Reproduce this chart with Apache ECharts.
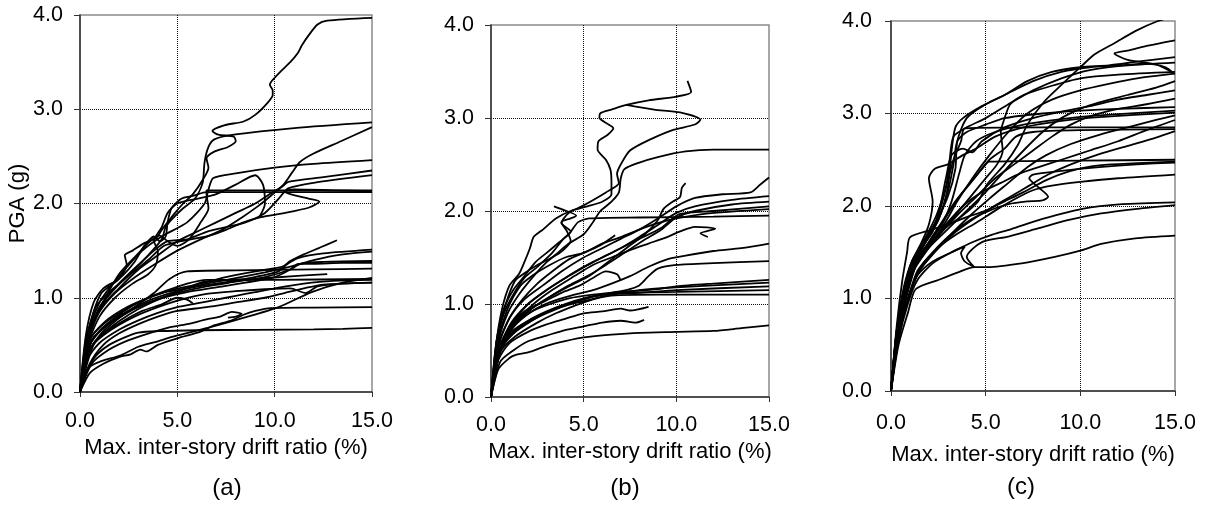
<!DOCTYPE html>
<html>
<head>
<meta charset="utf-8">
<title>IDA curves</title>
<script src="https://cdn.jsdelivr.net/npm/echarts@6/dist/echarts.min.js"></script>
<style>
  html, body { margin: 0; padding: 0; background: #fff; }
  #chart { width: 1206px; height: 507px; }
</style>
</head>
<body>
<div id="chart"></div>
<script>
// Axis ranges and tick spacing shared by the three panels
const xRange = [0, 15];
const xStep = 5;
const yRange = [0, 4];
const yStep = 1;
const panelLabels = ['(a)', '(b)', '(c)'];
const xTitle = 'Max. inter-story drift ratio (%)';
const yTitle = 'PGA (g)';

// Panel (a): PGA (g) versus max. inter-story drift ratio (%), one list per record
const curvesA = [
  [[0,0],[0.3,0.2],[0.8,0.38],[1.5,0.5],[2.3,0.58],[3.0,0.63],[4,0.645],[6,0.655],[9,0.66],[12,0.665],[13.5,0.67],[15,0.68]],
  [[0,0],[0.5,0.2],[1.2,0.3],[2.0,0.37],[2.6,0.40],[3.1,0.45],[3.4,0.43],[4.0,0.5],[5.0,0.57],[6.2,0.64],[6.8,0.70],[7.8,0.76],[8.4,0.82],[9.0,0.86],[9.8,0.89],[12,0.895],[15,0.90]],
  [[0,0],[0.6,0.3],[1.5,0.45],[2.5,0.55],[3.5,0.62],[4.5,0.68],[5.5,0.72],[6.5,0.77],[7.2,0.8],[7.8,0.85],[8.3,0.83],[8.0,0.80],[7.6,0.79]],
  [[0,0],[0.5,0.3],[1.2,0.5],[2,0.62],[3,0.72],[4,0.8],[5,0.86],[6.5,0.9],[8,0.95],[9.5,1.0],[10.5,1.05],[11.5,1.1],[12.5,1.14],[15,1.16]],
  [[0,0],[0.4,0.35],[1.0,0.52],[2,0.66],[3,0.76],[4,0.84],[5,0.9],[6,0.94],[7,0.98],[8,1.02],[9,1.06],[10,1.1],[11.5,1.15],[13,1.18],[15,1.19]],
  [[0,0],[0.4,0.25],[1,0.32],[2.1,0.39],[3,0.48],[3.85,0.53],[5,0.6],[6.75,0.69],[8.3,0.78],[10.2,0.9],[11.9,1.06],[13.5,1.16],[15,1.21]],
  [[0,0],[0.4,0.4],[1,0.6],[1.8,0.75],[2.8,0.9],[3.8,1.05],[4.6,1.2],[5.5,1.28],[8,1.29],[12,1.3],[15,1.31]],
  [[0,0],[0.5,0.45],[1.2,0.62],[2,0.75],[3,0.88],[4,0.98],[5,1.06],[6.4,1.17],[9,1.2],[11,1.23],[12.7,1.25]],
  [[0,0],[0.5,0.5],[1.3,0.7],[2.2,0.82],[3.2,0.92],[4.3,1.0],[5.5,1.06],[7,1.11],[8.5,1.16],[10,1.22],[10.8,1.3],[11.2,1.36],[12,1.36],[13.5,1.37],[15,1.37]],
  [[0,0],[0.6,0.55],[1.5,0.72],[2.5,0.85],[3.5,0.95],[5,1.05],[6.5,1.12],[8,1.17],[9.5,1.22],[10.8,1.3],[11.3,1.36],[12.5,1.38],[15,1.39]],
  [[0,0],[0.4,0.45],[1,0.65],[2,0.82],[3,0.95],[4.2,1.05],[5.5,1.1],[7,1.15],[8.5,1.2],[10.2,1.28],[10.6,1.35],[11.2,1.42],[12.5,1.47],[15,1.51]],
  [[0,0],[0.5,0.5],[1.2,0.68],[2.2,0.83],[3.4,0.96],[4.8,1.06],[6.3,1.14],[7.8,1.2],[9.5,1.27],[11,1.34],[12,1.4],[13.5,1.46],[15,1.49]],
  [[0,0],[0.5,0.55],[1.2,0.72],[2.2,0.86],[3.3,0.98],[4.5,1.07],[6,1.14],[7.5,1.22],[9,1.28],[10.4,1.33],[10.8,1.39],[11.5,1.46],[12.3,1.53],[13.2,1.61]],
  [[0,0],[0.5,0.45],[1.2,0.62],[2.2,0.75],[3.2,0.86],[4.2,0.93],[5,1.0],[5.5,0.98],[5.8,0.94]],
  [[0,0],[0.7,0.5],[1.6,0.66],[2.8,0.8],[4,0.9],[5.2,0.98],[6.5,1.04],[8,1.07],[9.5,1.09],[10.8,1.1],[11.6,1.05],[12.2,1.12],[13.5,1.15],[15,1.16]],
  [[0,0],[0.5,0.55],[1.3,0.75],[2.4,0.9],[3.5,1.0],[4.5,1.08],[5.5,1.15],[6.5,1.19],[10,1.19],[15,1.2]],
  [[0,0],[0.3,0.5],[0.7,0.85],[1.1,1.05],[1.5,1.12],[2.0,1.2],[2.4,1.35],[2.3,1.45],[2.7,1.5],[3.3,1.58],[3.9,1.63],[4.2,1.72],[4.8,1.88],[5.3,2.0],[5.8,2.1],[6.3,2.25],[6.6,2.38],[6.5,2.48],[6.9,2.55],[7.6,2.6],[8.0,2.66],[7.9,2.71],[7.1,2.73],[6.8,2.77],[7.4,2.83],[8.4,2.87],[9.0,2.94],[9.6,3.06],[9.9,3.15],[9.9,3.2],[9.75,3.26],[9.85,3.3],[10.3,3.4],[10.8,3.5],[11.2,3.6],[11.4,3.68],[11.8,3.8],[12.2,3.9],[12.7,3.94],[15,3.97]],
  [[0,0],[0.3,0.55],[0.8,0.9],[1.3,1.02],[2.0,1.15],[2.8,1.3],[3.5,1.45],[4.2,1.62],[4.4,1.75],[4.8,1.85],[5.3,1.95],[5.9,2.05],[6.3,2.22],[6.4,2.44],[6.6,2.6],[6.9,2.68],[7.9,2.73],[11,2.8],[15,2.86]],
  [[0,0],[0.4,0.55],[1.0,0.85],[1.8,1.05],[2.7,1.2],[3.8,1.35],[5.0,1.5],[6.2,1.62],[7.3,1.72],[8.3,1.85],[9.2,1.98],[9.85,2.09],[10.45,2.2],[10.9,2.33],[11.3,2.44],[12.0,2.53],[13.4,2.66],[15,2.81]],
  [[0,0],[0.4,0.6],[1.0,0.95],[1.5,1.1],[2.3,1.3],[3.2,1.5],[4.2,1.65],[5.5,1.8],[6.4,2.0],[6.6,2.15],[6.85,2.27],[8,2.32],[10,2.38],[12,2.42],[15,2.46]],
  [[0,0],[0.5,0.6],[1.1,0.9],[2,1.1],[3,1.3],[4,1.45],[5,1.6],[6,1.7],[7,1.8],[8,1.9],[9,2.0],[9.9,2.12],[10.4,2.18],[10.7,2.23],[12.5,2.28],[15,2.35]],
  [[0,0],[0.5,0.65],[1.2,0.95],[2,1.15],[3,1.35],[3.8,1.5],[4.5,1.6],[5.5,1.62],[6.5,1.7],[7.5,1.75],[8.5,1.8],[9.5,1.9],[10.2,2.05],[10.7,2.16],[12,2.22],[15,2.30]],
  [[0,0],[0.3,0.5],[0.8,0.8],[1.3,1.0],[2.0,1.25],[2.9,1.45],[3.6,1.6],[4.1,1.66],[4.5,1.6],[5.0,1.55],[5.6,1.62],[6.2,1.8],[6.6,1.95],[6.5,2.1],[6.5,2.14],[10,2.14],[15,2.14]],
  [[0,0],[0.4,0.55],[1,0.9],[1.8,1.1],[2.6,1.25],[3.5,1.4],[4.3,1.55],[5.2,1.6],[6.5,1.65],[7.5,1.72],[8.4,1.8],[9.2,1.85],[10,1.88],[11,1.92],[11.8,1.96],[12.3,2.02],[11.8,2.05],[10.8,2.1],[10.5,2.13],[11,2.15],[13,2.14],[15,2.13]],
  [[0,0],[0.3,0.6],[0.7,0.95],[1.2,1.1],[2.0,1.2],[2.8,1.38],[3.3,1.55],[3.8,1.65],[4.1,1.6],[4.4,1.65],[4.5,1.8],[4.7,1.95],[5.2,2.05],[5.8,2.08],[6.5,2.12],[15,2.12]],
  [[0,0],[0.4,0.5],[1,0.8],[1.8,1.0],[2.7,1.15],[3.5,1.25],[3.9,1.35],[4.0,1.5],[3.8,1.6],[4.2,1.75],[4.5,1.9],[5.0,2.0],[6.0,2.05],[7.0,2.1],[8.0,2.2],[9.0,2.3],[9.4,2.2],[9.5,2.0],[9.2,1.85]]
];

// Panel (b)
const curvesB = [
  [[0,0],[0.3,0.6],[0.6,0.95],[1.0,1.2],[1.5,1.32],[1.8,1.45],[2.1,1.6],[2.3,1.72],[2.8,1.8],[3.5,1.92],[4.3,2.0],[5.2,2.05],[6.0,2.1],[6.5,2.18],[6.5,2.3],[6.45,2.44],[6.2,2.55],[5.75,2.66],[5.8,2.75],[6.3,2.82],[6.6,2.89],[6.1,2.96],[5.85,3.0],[5.9,3.05],[6.5,3.09],[7.3,3.14],[8.5,3.19],[10.0,3.23],[10.8,3.28],[10.6,3.4]],
  [[0,0],[0.3,0.55],[0.7,0.9],[1.2,1.1],[1.8,1.28],[2.5,1.4],[3.3,1.55],[3.9,1.7],[4.3,1.78],[3.8,1.87],[4.2,1.98],[4.9,2.05],[6.2,2.2],[6.9,2.3],[6.8,2.4],[7.0,2.5],[7.5,2.65],[8.6,2.77],[9.8,2.87],[11.0,2.93],[11.3,2.98],[10.2,3.06],[8.8,3.09],[7.3,3.14]],
  [[0,0],[0.4,0.6],[0.9,0.9],[1.5,1.1],[2.3,1.3],[3,1.45],[3.6,1.55],[4.2,1.65],[5.0,1.75],[5.5,1.88],[5.9,2.0],[6.5,2.1],[6.9,2.2],[7.0,2.35],[7.2,2.45],[8.0,2.52],[9.0,2.58],[10.5,2.64],[12,2.66],[15,2.66]],
  [[0,0],[0.4,0.55],[1,0.85],[1.8,1.05],[2.8,1.2],[3.8,1.35],[5,1.5],[6,1.6],[7,1.7],[8,1.8],[9,1.92],[10,2.05],[11,2.14],[12.5,2.18],[14,2.2],[14.5,2.28],[15,2.36]],
  [[0,0],[0.4,0.5],[1.1,0.8],[2,1.0],[3,1.15],[4,1.28],[5,1.4],[6,1.5],[7,1.6],[8,1.72],[9,1.85],[10,1.98],[11,2.05],[13,2.12],[15,2.16]],
  [[0,0],[0.5,0.5],[1.2,0.75],[2.2,0.95],[3.2,1.08],[4.2,1.2],[5.2,1.3],[6.2,1.42],[7.2,1.55],[8.2,1.68],[9.2,1.8],[10,1.93],[11,2.0],[13,2.07],[15,2.10]],
  [[0,0],[0.5,0.55],[1.2,0.8],[2,1.0],[3,1.15],[4.2,1.3],[5.5,1.45],[6.8,1.58],[8,1.7],[9.2,1.82],[9.8,1.92],[10.2,1.97],[12,2.0],[15,2.05]],
  [[0,0],[0.4,0.6],[0.9,0.95],[1.6,1.2],[2.2,1.3],[3.0,1.4],[4.0,1.5],[5.0,1.55],[6.0,1.65],[7.0,1.72],[8.0,1.8],[9.0,1.87],[10,1.92],[11.5,1.97],[15,2.02]],
  [[0,0],[0.3,0.6],[0.7,0.95],[1.2,1.15],[1.8,1.3],[2.4,1.45],[3.0,1.55],[3.6,1.65],[4.2,1.75],[4.7,1.88],[5.3,1.92],[8,1.93],[12,1.94],[15,1.95]],
  [[0,0],[0.5,0.5],[1.2,0.75],[2.2,0.92],[3.2,1.02],[4.5,1.1],[5.5,1.15],[6.5,1.22],[7.5,1.3],[8.5,1.4],[9.5,1.48],[10.5,1.52],[12,1.57],[13.5,1.6],[15,1.65]],
  [[0,0],[0.5,0.5],[1.3,0.72],[2.3,0.85],[3.5,0.95],[4.5,1.02],[5.5,1.08],[6.5,1.12],[7.3,1.15],[8.0,1.2],[8.5,1.3],[9.0,1.38],[10,1.42],[12,1.44],[15,1.46]],
  [[0,0],[0.5,0.55],[1.2,0.78],[2.2,0.92],[3.2,1.0],[4.2,1.06],[5.5,1.1],[7,1.13],[9,1.16],[10,1.19],[12,1.22],[15,1.26]],
  [[0,0],[0.4,0.45],[1,0.65],[2,0.8],[3,0.9],[4,0.98],[5,1.03],[6,1.08],[7,1.12],[8,1.15],[10,1.18],[12,1.2],[15,1.23]],
  [[0,0],[0.4,0.5],[1.1,0.7],[2,0.82],[3,0.92],[4,1.0],[5,1.06],[6,1.1],[8,1.12],[10,1.15],[15,1.19]],
  [[0,0],[0.5,0.5],[1.2,0.68],[2.2,0.82],[3.3,0.94],[4.5,1.02],[5.5,1.08],[7,1.12],[10,1.13],[15,1.15]],
  [[0,0],[0.5,0.48],[1.3,0.65],[2.5,0.8],[3.5,0.9],[4.5,0.98],[5.5,1.05],[6.5,1.09],[9,1.1],[15,1.10]],
  [[0,0],[0.4,0.3],[1,0.42],[1.3,0.45],[2,0.48],[3,0.55],[4,0.6],[5,0.64],[6.5,0.67],[8,0.69],[10,0.7],[12,0.71],[13.5,0.74],[15,0.77]],
  [[0,0],[0.4,0.4],[1,0.58],[2,0.7],[3,0.78],[4,0.84],[5,0.9],[6,0.92],[7,0.95],[7.5,0.93],[8.5,0.97]],
  [[0,0],[0.5,0.38],[1.2,0.5],[2,0.6],[3,0.66],[4,0.72],[5,0.76],[6,0.8],[7,0.82],[7.8,0.8],[8.26,0.83]],
  [[0,0],[0.5,0.5],[1.2,0.78],[2.2,0.95],[3.2,1.08],[4.3,1.2],[5.3,1.3],[6.3,1.45],[7.3,1.6],[8.3,1.75],[9.0,1.9],[9.3,2.02],[9.8,2.1],[10.2,2.15],[10.3,2.25],[10.5,2.3]],
  [[0,0],[0.5,0.5],[1.3,0.8],[2.3,1.0],[3.3,1.15],[4.5,1.3],[5.5,1.42],[6.5,1.5],[7.5,1.58],[8.5,1.65],[9.5,1.72],[10.2,1.78],[11,1.83],[12.1,1.81],[11.3,1.76],[11.7,1.72]],
  [[0,0],[0.4,0.55],[1,0.85],[1.7,1.05],[2.5,1.22],[3.3,1.35],[4.2,1.48],[5,1.55],[5.8,1.62],[6.7,1.74]],
  [[0,0],[0.3,0.6],[0.8,1.0],[1.3,1.25],[1.8,1.33],[2.5,1.42],[3.3,1.5],[3.9,1.58],[4.3,1.68],[4.1,1.78],[3.8,1.88],[4.3,1.92],[4.6,1.95],[3.8,2.02],[3.4,2.05]],
  [[0,0],[0.4,0.5],[1.0,0.75],[1.8,0.92],[2.8,1.02],[3.8,1.12],[4.8,1.2],[5.5,1.28],[6.2,1.35],[6.8,1.32],[7.0,1.25]]
];

// Panel (c)
const curvesC = [
  [[0,0],[0.3,0.6],[0.6,1.0],[1.0,1.3],[1.8,1.55],[2.8,1.75],[3.8,1.9],[4.6,2.05],[5.1,2.24],[6.0,2.45],[6.7,2.66],[7.2,2.88],[8.1,3.13],[9.0,3.31],[10.05,3.51],[10.76,3.64],[11.8,3.76],[12.9,3.89],[14.1,4.0],[15,4.05]],
  [[0,0],[0.3,0.65],[0.6,1.05],[1.0,1.35],[1.5,1.55],[2.3,1.8],[3.0,2.1],[3.4,2.4],[3.5,2.7],[4.0,2.95],[5.0,3.1],[6.0,3.2],[7.5,3.35],[9.0,3.45],[10.5,3.5],[12.0,3.52],[13.5,3.54],[14.5,3.5],[14.9,3.44],[14.0,3.53],[12.5,3.58],[11.8,3.65],[12.5,3.68],[13.5,3.73],[15,3.79]],
  [[0,0],[0.3,0.6],[0.7,1.05],[1.2,1.4],[1.8,1.6],[2.5,1.85],[3.0,2.2],[3.2,2.6],[3.4,2.85],[3.8,2.95],[4.8,3.08],[6.0,3.2],[7.2,3.35],[8.5,3.45],[10,3.5],[11.5,3.52],[13,3.56],[15,3.61]],
  [[0,0],[0.35,0.7],[0.7,1.1],[1.1,1.4],[1.7,1.6],[2.4,1.85],[2.9,2.2],[3.1,2.5],[3.3,2.75],[4.0,2.85],[5,2.95],[6.2,3.1],[7.5,3.25],[9,3.38],[10.5,3.47],[12.5,3.52],[15,3.55]],
  [[0,0],[0.3,0.55],[0.7,0.95],[1.2,1.3],[2,1.55],[2.8,1.8],[3.5,2.05],[4.3,2.3],[5.2,2.55],[6.2,2.8],[7.2,3.0],[8.5,3.15],[10,3.25],[11.5,3.32],[13,3.38],[15,3.43]],
  [[0,0],[0.3,0.6],[0.7,1.0],[1.2,1.35],[2,1.55],[3,1.75],[4,1.95],[5,2.15],[6,2.38],[7,2.6],[8,2.8],[9,2.95],[10,3.05],[11,3.12],[12.5,3.2],[14,3.28],[15,3.35]],
  [[0,0],[0.3,0.65],[0.7,1.05],[1.1,1.35],[1.6,1.55],[2.2,1.72],[2.6,2.0],[2.9,2.3],[3.2,2.55],[3.8,2.62],[4.3,2.58],[4.8,2.7],[6,2.85],[7.5,2.95],[9,3.02],[10.5,3.08],[12,3.15],[13.5,3.2],[15,3.25]],
  [[0,0],[0.3,0.55],[0.7,1.0],[1.1,1.3],[1.8,1.5],[2.6,1.7],[3.5,1.9],[4.5,2.1],[5.5,2.3],[6.5,2.45],[7.5,2.6],[8.5,2.75],[9.5,2.88],[10.5,2.97],[12,3.05],[13.5,3.1],[15,3.16]],
  [[0,0],[0.3,0.6],[0.7,1.0],[1.2,1.35],[1.8,1.6],[2.5,1.85],[3.0,2.15],[3.3,2.45],[3.5,2.7],[4,2.8],[5,2.88],[6,2.95],[8,3.0],[10,3.03],[12,3.05],[15,3.07]],
  [[0,0],[0.3,0.6],[0.8,1.05],[1.3,1.4],[2,1.6],[2.7,1.8],[3.2,2.05],[3.6,2.35],[3.9,2.55],[4.5,2.7],[5.5,2.8],[7,2.88],[9,2.94],[11,2.98],[15,3.03]],
  [[0,0],[0.4,0.6],[0.9,1.0],[1.5,1.3],[2.3,1.5],[3.2,1.7],[4.2,1.9],[5.2,2.08],[6.2,2.25],[7.2,2.42],[8.2,2.55],[9.5,2.67],[11,2.77],[12.5,2.85],[14,2.93],[15,2.98]],
  [[0,0],[0.4,0.65],[0.9,1.1],[1.4,1.4],[2.1,1.6],[2.9,1.8],[3.8,2.0],[4.8,2.15],[5.8,2.25],[6.8,2.35],[7.8,2.42],[9,2.5],[10.5,2.6],[12,2.7],[13.5,2.82],[15,2.93]],
  [[0,0],[0.3,0.6],[0.7,1.05],[1.2,1.4],[1.8,1.65],[2.4,1.9],[2.9,2.2],[3.3,2.5],[3.7,2.7],[3.9,2.84],[8,2.85],[15,2.85]],
  [[0,0],[0.3,0.55],[0.8,1.0],[1.3,1.35],[2,1.6],[2.8,1.85],[3.6,2.1],[4.4,2.3],[5.2,2.5],[6,2.62],[6.6,2.75],[7.5,2.8],[10,2.82],[15,2.83]],
  [[0,0],[0.4,0.6],[0.9,1.0],[1.5,1.3],[2.3,1.5],[3.3,1.7],[4.3,1.85],[5.3,1.98],[6.3,2.1],[7.3,2.22],[8.3,2.34],[9.5,2.45],[11,2.56],[12.5,2.65],[14,2.74],[15,2.81]],
  [[0,0],[0.3,0.6],[0.7,1.0],[1.2,1.35],[1.8,1.55],[2.6,1.8],[3.4,2.05],[4.2,2.25],[4.8,2.4],[5.2,2.48],[10,2.49],[15,2.50]],
  [[0,0],[0.4,0.6],[0.9,1.0],[1.4,1.3],[2.2,1.5],[3.2,1.7],[4.2,1.85],[5.2,1.95],[6.2,2.02],[7.2,2.05],[8.0,2.06],[8.3,2.1],[7.8,2.2],[7.3,2.3],[7.5,2.34],[9,2.38],[11,2.42],[13,2.45],[15,2.47]],
  [[0,0],[0.4,0.6],[1.0,1.05],[1.6,1.35],[2.5,1.55],[3.5,1.7],[4.5,1.82],[5.5,1.95],[6.5,2.07],[7.5,2.17],[8.5,2.22],[10,2.26],[12,2.3],[15,2.34]],
  [[0,0],[0.4,0.6],[0.9,1.0],[1.4,1.25],[2.2,1.4],[3.2,1.5],[4.2,1.6],[5.2,1.68],[6.35,1.75],[8.0,1.86],[10.1,1.97],[12.2,2.02],[15,2.04]],
  [[0,0],[0.4,0.55],[0.9,0.95],[1.4,1.2],[2.2,1.38],[3.2,1.5],[3.9,1.56],[3.7,1.49],[3.9,1.40],[4.4,1.34],[4.0,1.45],[4.8,1.61],[6.2,1.67],[7.8,1.76],[9.4,1.85],[11.1,1.92],[13,1.97],[15,2.01]],
  [[0,0],[0.4,0.5],[0.9,0.85],[1.3,1.1],[2.5,1.2],[3.5,1.28],[4.4,1.34],[5.1,1.34],[6.9,1.38],[8.65,1.45],[10.05,1.52],[11.1,1.59],[12.9,1.65],[15,1.68]],
  [[0,0],[0.3,0.7],[0.6,1.2],[0.85,1.5],[1.0,1.66],[2.1,1.74],[3,1.8],[4,1.88],[5,1.95],[6,2.05],[7,2.15],[8.2,2.28],[9.5,2.38],[11,2.44],[15,2.48]],
  [[0,0],[0.3,0.65],[0.7,1.1],[1.1,1.4],[1.6,1.6],[2.0,1.8],[2.2,2.05],[2.0,2.3],[2.3,2.4],[3,2.45],[3.8,2.55],[4.5,2.62],[5.5,2.75],[7,2.85],[9,2.92],[11,2.96],[15,3.01]],
  [[0,0],[0.35,0.6],[0.8,1.05],[1.3,1.35],[2,1.55],[2.8,1.75],[3.6,1.95],[4.4,2.15],[5.0,2.3],[5.6,2.45],[5.9,2.6],[5.8,2.8],[6.0,2.95],[6.3,3.1],[7,3.2],[8.5,3.3],[10,3.38],[12,3.42],[15,3.45]]
];

const FONT = '"Liberation Sans", Arial, Helvetica, sans-serif';
const INK = '#000';
const AXIS_INK = '#333';

// Plot-area placement of each panel (pixels)
const grids = [
  { left: 80,  top: 15, width: 292, height: 377 },
  { left: 491, top: 25, width: 278, height: 372 },
  { left: 891, top: 21, width: 284, height: 370 }
];
const xLabelMargin = [18, 17, 21];
const xNameGap = [41, 44, 53];
const yLabelMargin = [17, 17, 19];
const panelLabelPos = [[227, 488], [625, 488], [1021, 487]];

const fmt = v => v.toFixed(1);

function xAxisFor(i) {
  return {
    type: 'value', gridIndex: i,
    min: xRange[0], max: xRange[1], interval: xStep,
    name: xTitle, nameLocation: 'middle', nameGap: xNameGap[i],
    nameTextStyle: { fontFamily: FONT, fontSize: 22, color: INK },
    axisLine: { show: true, onZero: false, lineStyle: { color: AXIS_INK, width: 1.5 } },
    axisTick: { show: true, inside: false, length: 5, lineStyle: { color: AXIS_INK, width: 1 } },
    axisLabel: { formatter: fmt, fontFamily: FONT, fontSize: 21.5, color: INK, margin: xLabelMargin[i] },
    splitLine: { show: true, showMinLine: false, showMaxLine: false,
                 lineStyle: { color: '#111', width: 1, type: [1, 1] } }
  };
}

function yAxisFor(i) {
  const ax = {
    type: 'value', gridIndex: i,
    min: yRange[0], max: yRange[1], interval: yStep,
    axisLine: { show: true, onZero: false, lineStyle: { color: AXIS_INK, width: 1.5 } },
    axisTick: { show: true, inside: false, length: 6, lineStyle: { color: AXIS_INK, width: 1 } },
    axisLabel: { formatter: fmt, fontFamily: FONT, fontSize: 21.5, color: INK, margin: yLabelMargin[i] },
    splitLine: { show: true, showMinLine: false, showMaxLine: false,
                 lineStyle: { color: '#111', width: 1, type: [1, 1] } }
  };
  if (i === 0) {
    ax.name = yTitle;
    ax.nameLocation = 'middle';
    ax.nameRotate = 90;
    ax.nameGap = 50;
    ax.nameTextStyle = { fontFamily: FONT, fontSize: 22, color: INK };
  }
  return ax;
}

const series = [];
[curvesA, curvesB, curvesC].forEach((curves, i) => {
  curves.forEach(c => {
    series.push({
      type: 'line', xAxisIndex: i, yAxisIndex: i,
      data: c, showSymbol: false, symbol: 'none',
      smooth: 0.25, clip: true,
      lineStyle: { color: INK, width: 1.8 },
      emphasis: { disabled: true }, silent: true
    });
  });
});

const chart = echarts.init(document.getElementById('chart'), null, { renderer: 'canvas' });
chart.setOption({
  animation: false,
  backgroundColor: '#fff',
  grid: grids.map(g => Object.assign({ show: true, borderColor: '#8a8a8a', borderWidth: 1.5,
                                         backgroundColor: 'transparent' }, g)),
  xAxis: [0, 1, 2].map(xAxisFor),
  yAxis: [0, 1, 2].map(yAxisFor),
  series: series,
  graphic: panelLabels.map((t, i) => ({
    type: 'text', x: panelLabelPos[i][0], y: panelLabelPos[i][1],
    style: { text: t, fill: INK, font: '24px ' + FONT, align: 'center', verticalAlign: 'middle' }
  }))
});
</script>
</body>
</html>
